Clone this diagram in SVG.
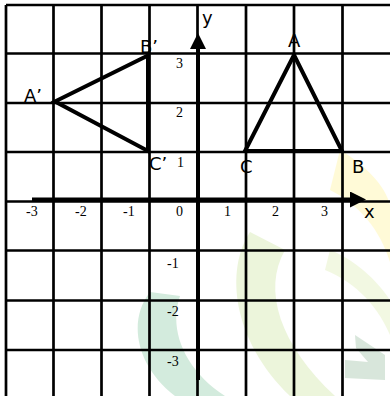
<svg xmlns="http://www.w3.org/2000/svg" width="390" height="396" viewBox="0 0 390 396">
  <style>
    .grid { stroke: #000; stroke-width: 2.7; fill: none; }
    .axis { stroke: #000; stroke-width: 4; fill: none; }
    .tri { stroke: #000; stroke-width: 4; fill: none; stroke-linejoin: miter; }
    .lbl { font-family: "DejaVu Sans", "Liberation Sans", sans-serif; font-size: 18px; fill: #000; }
    .num { font-family: "Liberation Serif", "Times New Roman", serif; font-size: 14px; fill: #000; }
  </style>
  <defs>
    <marker id="arrow" viewBox="0 0 10 10" refX="0" refY="5" markerWidth="4.2" markerHeight="4" orient="auto" markerUnits="strokeWidth">
      <path d="M0,0 L10,5 L0,10 Z" fill="#000"/>
    </marker>
  </defs>
  <rect width="390" height="396" fill="#fff"/>
  <g id="watermark" opacity="0.45">
    <path d="M150,292 C128,320 135,365 175,396 L225,396 C185,370 168,330 180,296 Z" fill="#9fd3b4"/>
    <path d="M250,232 C225,270 232,340 290,396 L335,396 C280,345 262,290 285,250 Z" fill="#d6e9b0"/>
    <path d="M340,150 C365,165 385,185 390,205 L390,262 C380,230 360,205 330,190 Z" fill="#fff6a8"/>
    <path d="M355,335 L385,355 L385,380 L345,378 L345,360 L368,362 L356,348 Z" fill="#a9c9b0"/>
    <path d="M330,250 C360,262 380,285 390,300 L390,335 C375,300 350,280 325,270 Z" fill="#e4f0c0"/>
  </g>
  <g id="grid">
    <line class="grid" x1="6" y1="5" x2="6" y2="396"/>
    <line class="grid" x1="53.5" y1="5" x2="53.5" y2="396"/>
    <line class="grid" x1="101.5" y1="5" x2="101.5" y2="396"/>
    <line class="grid" x1="149.5" y1="5" x2="149.5" y2="396"/>
    <line class="grid" x1="197.5" y1="5" x2="197.5" y2="396"/>
    <line class="grid" x1="246" y1="5" x2="246" y2="396"/>
    <line class="grid" x1="294" y1="5" x2="294" y2="396"/>
    <line class="grid" x1="342.5" y1="5" x2="342.5" y2="396"/>
    <line class="grid" x1="6" y1="5" x2="390" y2="5"/>
    <line class="grid" x1="6" y1="53.5" x2="390" y2="53.5"/>
    <line class="grid" x1="6" y1="103" x2="390" y2="103"/>
    <line class="grid" x1="6" y1="152" x2="390" y2="152"/>
    <line class="grid" x1="6" y1="201.5" x2="390" y2="201.5"/>
    <line class="grid" x1="6" y1="250.5" x2="390" y2="250.5"/>
    <line class="grid" x1="6" y1="300.5" x2="390" y2="300.5"/>
    <line class="grid" x1="6" y1="350" x2="390" y2="350"/>
  </g>
  <g id="connectors">
    <line id="x-axis" class="axis" x1="32" y1="199.5" x2="350" y2="199.5" marker-end="url(#arrow)"/>
    <line id="y-axis" class="axis" x1="198" y1="380" x2="198" y2="49" marker-end="url(#arrow)"/>
  </g>
  <g id="triangle-ABC">
    <polygon class="tri" points="294,55 342,151 245,151"/>
    <text class="lbl" x="288" y="47">A</text>
    <text class="lbl" x="352" y="173">B</text>
    <text class="lbl" x="240" y="173">C</text>
  </g>
  <g id="triangle-A1B1C1">
    <polygon class="tri" points="55,101.5 148,55.5 148,151"/>
    <text class="lbl" x="24" y="102">A’</text>
    <text class="lbl" x="140" y="53">B’</text>
    <text class="lbl" x="149" y="170">C’</text>
  </g>
  <g id="axis-labels">
    <text class="lbl" x="202" y="24">y</text>
    <text class="lbl" x="364" y="218">x</text>
  </g>
  <g id="ticks">
    <text class="num" x="176" y="68">3</text>
    <text class="num" x="176" y="117">2</text>
    <text class="num" x="177" y="167">1</text>
    <text class="num" x="26" y="216">-3</text>
    <text class="num" x="75" y="216">-2</text>
    <text class="num" x="123" y="216">-1</text>
    <text class="num" x="176" y="216">0</text>
    <text class="num" x="224" y="216">1</text>
    <text class="num" x="272" y="216">2</text>
    <text class="num" x="321" y="216">3</text>
    <text class="num" x="167" y="268">-1</text>
    <text class="num" x="167" y="316">-2</text>
    <text class="num" x="167" y="366">-3</text>
  </g>
</svg>
